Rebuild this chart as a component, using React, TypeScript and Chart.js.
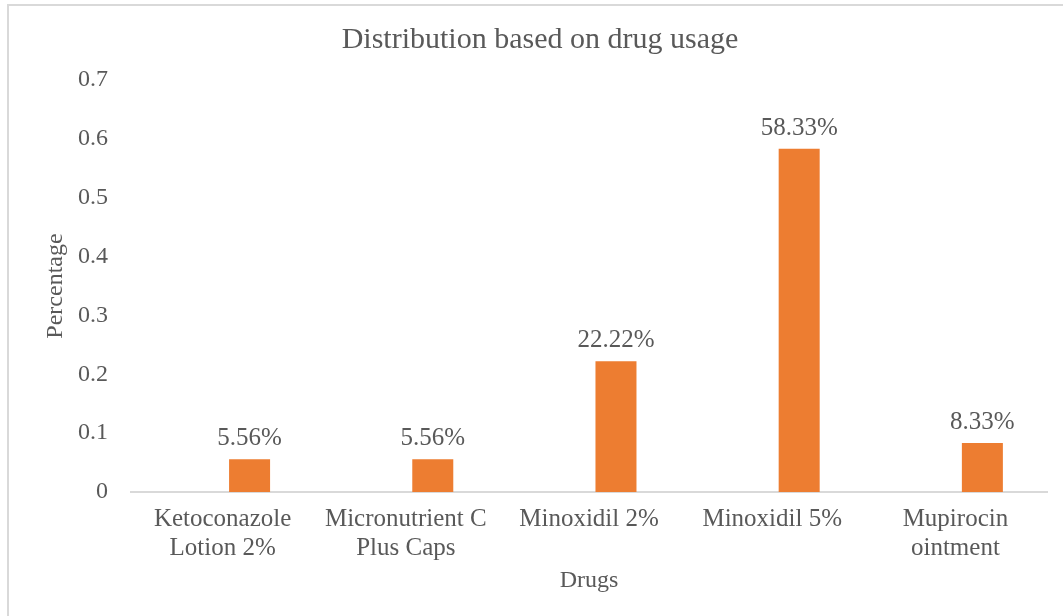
import React, { useEffect, useRef } from "react";
import { Chart, registerables } from "chart.js";

Chart.register(...registerables);

const chartTitle = "Distribution based on drug usage";
const categories: string[][] = [
  ["Ketoconazole", "Lotion 2%"],
  ["Micronutrient C", "Plus Caps"],
  ["Minoxidil 2%"],
  ["Minoxidil 5%"],
  ["Mupirocin", "ointment"],
];
const usageValues = [0.0556, 0.0556, 0.2222, 0.5833, 0.0833];
const emptySeries = [null, null, null, null, null];
const yTitle = "Percentage";
const xTitle = "Drugs";

const FONT = "'Liberation Serif', 'Times New Roman', serif";
const TEXT = "#595959";
const BAR = "#ED7D31";
const AXIS = "#D9D9D9";

const labelPlugin = {
  id: "labelsAndTitle",
  afterDatasetsDraw(chart: any) {
    const ctx = chart.ctx;
    ctx.save();
    ctx.fillStyle = TEXT;
    ctx.textAlign = "center";
    ctx.textBaseline = "alphabetic";
    ctx.font = `25px ${FONT}`;
    const meta = chart.getDatasetMeta(1);
    meta.data.forEach((bar: any, i: number) => {
      const v = usageValues[i];
      ctx.fillText((v * 100).toFixed(2) + "%", bar.x, bar.y - 14);
    });
    ctx.font = `30px ${FONT}`;
    ctx.textBaseline = "middle";
    ctx.fillText(chartTitle, 540, 40);
    ctx.restore();
  },
};

export default function App() {
  const ref = useRef<HTMLCanvasElement>(null);
  useEffect(() => {
    if (!ref.current) return;
    const chart = new Chart(ref.current, {
      type: "bar",
      data: {
        labels: categories,
        datasets: [
          {
            label: "blank",
            data: emptySeries as any,
            backgroundColor: BAR,
            categoryPercentage: 0.589,
            barPercentage: 0.76,
          },
          {
            label: "Usage",
            data: usageValues,
            backgroundColor: BAR,
            categoryPercentage: 0.589,
            barPercentage: 0.76,
          },
        ],
      },
      plugins: [labelPlugin],
      options: {
        animation: false,
        responsive: false,
        maintainAspectRatio: false,
        layout: { padding: { left: 0, right: 16, top: 80, bottom: 0 } },
        plugins: {
          legend: { display: false },
          title: { display: false },
          tooltip: { enabled: false },
        },
        scales: {
          x: {
            grid: { display: false, drawTicks: false },
            border: { display: true, color: AXIS, width: 2 },
            ticks: {
              color: TEXT,
              font: { family: FONT, size: 25, lineHeight: 1.17 },
              padding: 13,
              maxRotation: 0,
              autoSkip: false,
            },
            title: {
              display: true,
              text: xTitle,
              color: TEXT,
              font: { family: FONT, size: 24 },
              padding: { top: 0, bottom: 21 },
            },
            afterFit(scale: any) {
              scale.height = 124;
            },
          },
          y: {
            min: 0,
            max: 0.7,
            grid: { display: false, drawTicks: false },
            border: { display: false },
            ticks: {
              stepSize: 0.1,
              color: TEXT,
              font: { family: FONT, size: 24 },
              padding: 23,
            },
            title: {
              display: true,
              text: yTitle,
              color: TEXT,
              font: { family: FONT, size: 24 },
              padding: { top: 41, bottom: 0 },
            },
            afterFit(scale: any) {
              scale.width = 131;
            },
          },
        },
      },
    });
    return () => chart.destroy();
  }, []);

  return (
    <div
      style={{
        position: "absolute",
        left: 0,
        top: 0,
        width: 1063,
        height: 616,
        overflow: "hidden",
        background: "#fff",
      }}
    >
      <div
        style={{
          position: "absolute",
          left: 7,
          top: 4,
          width: 1200,
          height: 800,
          border: `2px solid ${AXIS}`,
        }}
      />
      <canvas
        ref={ref}
        width={1063}
        height={616}
        style={{ position: "absolute", left: 0, top: 0, width: 1063, height: 616 }}
      />
    </div>
  );
}
